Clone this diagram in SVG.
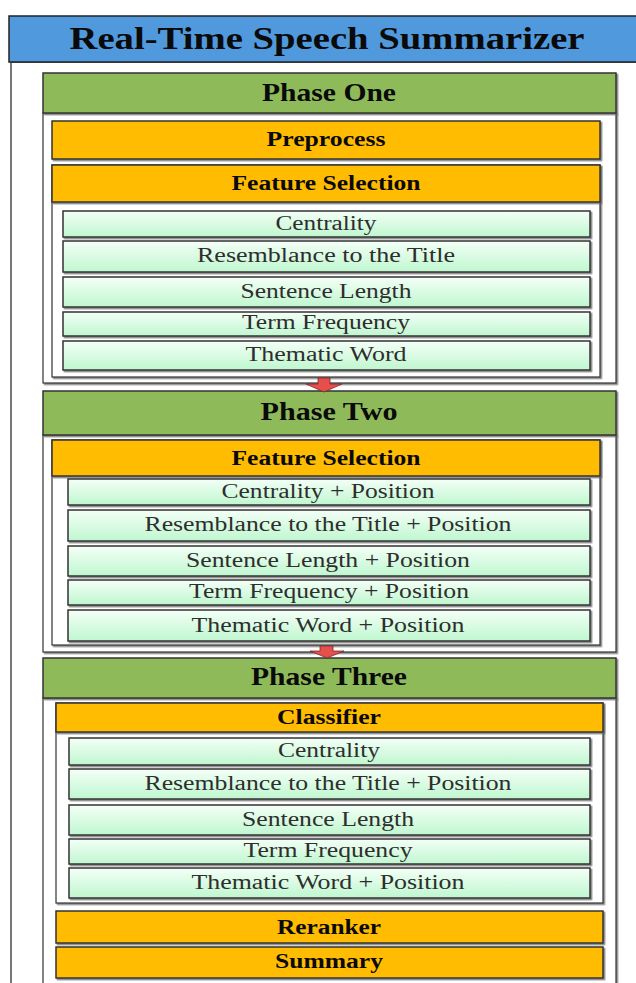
<svg xmlns="http://www.w3.org/2000/svg" width="636" height="983" viewBox="0 0 636 983">
<defs>
<linearGradient id="itemGrad" x1="0" y1="0" x2="0" y2="1">
<stop offset="0" stop-color="#f4fff7"/>
<stop offset="1" stop-color="#bff7cf"/>
</linearGradient>
<filter id="sh" x="-5%" y="-20%" width="110%" height="140%">
<feDropShadow dx="1.5" dy="1.5" stdDeviation="0.7" flood-color="#666" flood-opacity="0.8"/>
</filter>
</defs>
<style>
.frame{fill:none;stroke:#777;stroke-width:2}
.title{fill:#5199dd;stroke:#222;stroke-width:1.5}
.phase{fill:#8fba5a;stroke:#333;stroke-width:1.5;filter:url(#sh)}
.cont{fill:#fff;stroke:#333;stroke-width:1.2;filter:url(#sh)}
.orange{fill:#ffbc00;stroke:#333;stroke-width:1.5;filter:url(#sh)}
.item{fill:url(#itemGrad);stroke:#333;stroke-width:1.5;filter:url(#sh)}
.arrow{fill:#e5504d;stroke:#7a2a28;stroke-width:0.8}
text{font-family:"Liberation Serif","Times New Roman",serif;text-anchor:middle}
.tt{font-size:32px;font-weight:bold;fill:#0a0a0a}
.ph{font-size:25px;font-weight:bold;fill:#0a0a0a}
.oh{font-size:20px;font-weight:bold;fill:#0a0a0a}
.it{font-size:20px;fill:#2e2e2e}
</style>

<rect class="frame" x="11" y="62" width="640" height="930"/>
<g id="title">
<rect class="title" x="9" y="16" width="640" height="46"/>
<text class="tt" x="327" y="49" textLength="515" lengthAdjust="spacingAndGlyphs">Real-Time Speech Summarizer</text>
</g>

<!-- Phase One -->
<g id="phase1">
<rect class="cont" x="43" y="113" width="573" height="270"/>
<rect class="phase" x="43" y="73" width="573" height="40"/>
<text class="ph" x="329" y="101" textLength="134" lengthAdjust="spacingAndGlyphs">Phase One</text>
</g>
<g id="p1-preprocess">
<rect class="orange" x="52" y="121" width="548" height="38"/>
<text class="oh" x="326" y="146" textLength="119" lengthAdjust="spacingAndGlyphs">Preprocess</text>
</g>
<g id="p1-feature">
<rect class="cont" x="52" y="165" width="548" height="212"/>
<rect class="orange" x="52" y="165" width="548" height="37"/>
<text class="oh" x="326" y="190" textLength="189" lengthAdjust="spacingAndGlyphs">Feature Selection</text>
</g>
<g id="p1-centrality">
<rect class="item" x="63" y="211" width="527" height="26"/>
<text class="it" x="326" y="230" textLength="101" lengthAdjust="spacingAndGlyphs">Centrality</text>
</g>
<g id="p1-resemblance">
<rect class="item" x="63" y="241" width="527" height="31"/>
<text class="it" x="326" y="262" textLength="258" lengthAdjust="spacingAndGlyphs">Resemblance to the Title</text>
</g>
<g id="p1-length">
<rect class="item" x="63" y="277" width="527" height="30"/>
<text class="it" x="326" y="298" textLength="171" lengthAdjust="spacingAndGlyphs">Sentence Length</text>
</g>
<g id="p1-term">
<rect class="item" x="63" y="312" width="527" height="24"/>
<text class="it" x="326" y="329" textLength="168" lengthAdjust="spacingAndGlyphs">Term Frequency</text>
</g>
<g id="p1-thematic">
<rect class="item" x="63" y="341" width="527" height="29"/>
<text class="it" x="326" y="361" textLength="161" lengthAdjust="spacingAndGlyphs">Thematic Word</text>
</g>

<!-- Phase Two -->
<g id="phase2">
<rect class="cont" x="43" y="435" width="573" height="217"/>
<rect class="phase" x="43" y="391" width="573" height="44"/>
<text class="ph" x="329" y="420" textLength="137" lengthAdjust="spacingAndGlyphs">Phase Two</text>
</g>
<g id="p2-feature">
<rect class="cont" x="52" y="440" width="548" height="205"/>
<rect class="orange" x="52" y="440" width="548" height="36"/>
<text class="oh" x="326" y="465" textLength="189" lengthAdjust="spacingAndGlyphs">Feature Selection</text>
</g>
<g id="p2-centrality">
<rect class="item" x="68" y="479" width="522" height="26"/>
<text class="it" x="328" y="498" textLength="213" lengthAdjust="spacingAndGlyphs">Centrality + Position</text>
</g>
<g id="p2-resemblance">
<rect class="item" x="68" y="510" width="522" height="31"/>
<text class="it" x="328" y="531" textLength="367" lengthAdjust="spacingAndGlyphs">Resemblance to the Title + Position</text>
</g>
<g id="p2-length">
<rect class="item" x="68" y="546" width="522" height="30"/>
<text class="it" x="328" y="567" textLength="284" lengthAdjust="spacingAndGlyphs">Sentence Length + Position</text>
</g>
<g id="p2-term">
<rect class="item" x="68" y="580" width="522" height="25"/>
<text class="it" x="329" y="598" textLength="280" lengthAdjust="spacingAndGlyphs">Term Frequency + Position</text>
</g>
<g id="p2-thematic">
<rect class="item" x="68" y="610" width="522" height="31"/>
<text class="it" x="328" y="632" textLength="273" lengthAdjust="spacingAndGlyphs">Thematic Word + Position</text>
</g>

<!-- Phase Three -->
<g id="phase3">
<rect class="cont" x="43" y="698" width="573" height="290"/>
<rect class="phase" x="43" y="658" width="573" height="40"/>
<text class="ph" x="329" y="685" textLength="156" lengthAdjust="spacingAndGlyphs">Phase Three</text>
</g>
<g id="p3-classifier">
<rect class="cont" x="56" y="703" width="547" height="200"/>
<rect class="orange" x="56" y="703" width="547" height="29"/>
<text class="oh" x="329" y="724" textLength="104" lengthAdjust="spacingAndGlyphs">Classifier</text>
</g>
<g id="p3-centrality">
<rect class="item" x="69" y="738" width="521" height="27"/>
<text class="it" x="329" y="757" textLength="102" lengthAdjust="spacingAndGlyphs">Centrality</text>
</g>
<g id="p3-resemblance">
<rect class="item" x="69" y="769" width="521" height="30"/>
<text class="it" x="328" y="790" textLength="367" lengthAdjust="spacingAndGlyphs">Resemblance to the Title + Position</text>
</g>
<g id="p3-length">
<rect class="item" x="69" y="805" width="521" height="30"/>
<text class="it" x="328" y="826" textLength="172" lengthAdjust="spacingAndGlyphs">Sentence Length</text>
</g>
<g id="p3-term">
<rect class="item" x="69" y="839" width="521" height="25"/>
<text class="it" x="328" y="857" textLength="169" lengthAdjust="spacingAndGlyphs">Term Frequency</text>
</g>
<g id="p3-thematic">
<rect class="item" x="69" y="868" width="521" height="30"/>
<text class="it" x="328" y="889" textLength="273" lengthAdjust="spacingAndGlyphs">Thematic Word + Position</text>
</g>
<g id="p3-reranker">
<rect class="orange" x="56" y="911" width="547" height="32"/>
<text class="oh" x="329" y="934" textLength="104" lengthAdjust="spacingAndGlyphs">Reranker</text>
</g>
<g id="p3-summary">
<rect class="orange" x="56" y="947" width="547" height="31"/>
<text class="oh" x="329" y="968" textLength="108" lengthAdjust="spacingAndGlyphs">Summary</text>
</g>

<!-- Connectors -->
<g id="connectors">
<polygon class="arrow" points="318,378 330,378 330,384 342,384 324,392 306,384 318,384"/>
<polygon class="arrow" points="320,646 333,646 333,651 344,651 327,658 310,651 320,651"/>
</g>
</svg>
